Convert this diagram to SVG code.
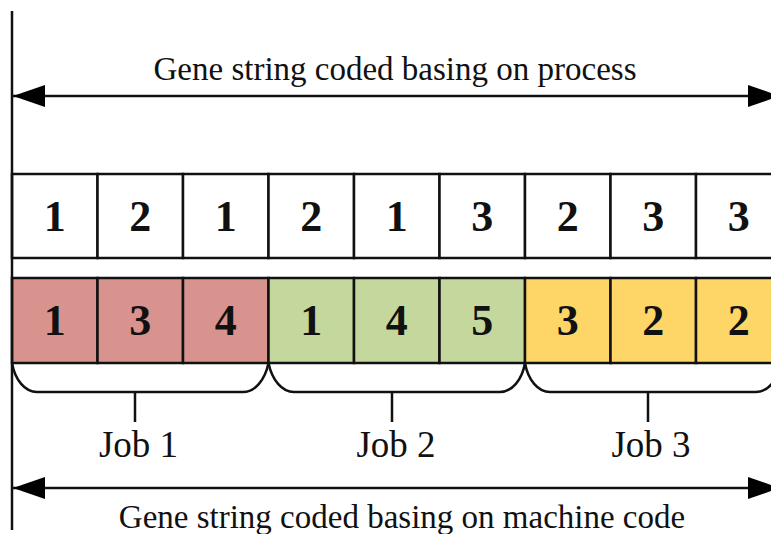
<svg xmlns="http://www.w3.org/2000/svg" width="771" height="534" viewBox="0 0 771 534">
<defs>
<marker id="ah" viewBox="0 0 32 22" refX="32" refY="11" markerWidth="32" markerHeight="22" markerUnits="userSpaceOnUse" orient="auto-start-reverse">
<path d="M0,0 L32,11 L0,22 Z" fill="#000"/>
</marker>
</defs>
<style>
.cell{stroke:#111;stroke-width:2.5}
.w{fill:#fff}
.r{fill:#D9938F}
.g{fill:#C4D79C}
.y{fill:#FED567}
.num{font-family:"Liberation Serif","Times New Roman",serif;font-weight:bold;font-size:44px;text-anchor:middle;fill:#111}
.lbl{font-family:"Liberation Serif","Times New Roman",serif;font-size:33px;text-anchor:middle;fill:#111}
.job{font-family:"Liberation Serif","Times New Roman",serif;font-size:37px;text-anchor:middle;fill:#111}
.ln{stroke:#111;stroke-width:2.5;fill:none}
</style>
<rect width="771" height="534" fill="#fff"/>
<g id="top-row">
<g id="p1"><rect class="cell w" x="12" y="174" width="85.5" height="84"/><text class="num" x="54.75" y="231">1</text></g>
<g id="p2"><rect class="cell w" x="97.5" y="174" width="85.5" height="84"/><text class="num" x="140.25" y="231">2</text></g>
<g id="p3"><rect class="cell w" x="183" y="174" width="85.5" height="84"/><text class="num" x="225.75" y="231">1</text></g>
<g id="p4"><rect class="cell w" x="268.5" y="174" width="85.5" height="84"/><text class="num" x="311.25" y="231">2</text></g>
<g id="p5"><rect class="cell w" x="354" y="174" width="85.5" height="84"/><text class="num" x="396.75" y="231">1</text></g>
<g id="p6"><rect class="cell w" x="439.5" y="174" width="85.5" height="84"/><text class="num" x="482.25" y="231">3</text></g>
<g id="p7"><rect class="cell w" x="525" y="174" width="85.5" height="84"/><text class="num" x="567.75" y="231">2</text></g>
<g id="p8"><rect class="cell w" x="610.5" y="174" width="85.5" height="84"/><text class="num" x="653.25" y="231">3</text></g>
<g id="p9"><rect class="cell w" x="696" y="174" width="85.5" height="84"/><text class="num" x="738.75" y="231">3</text></g>
</g>
<g id="bottom-row">
<g id="m1"><rect class="cell r" x="12" y="278" width="85.5" height="85"/><text class="num" x="54.75" y="335">1</text></g>
<g id="m2"><rect class="cell r" x="97.5" y="278" width="85.5" height="85"/><text class="num" x="140.25" y="335">3</text></g>
<g id="m3"><rect class="cell r" x="183" y="278" width="85.5" height="85"/><text class="num" x="225.75" y="335">4</text></g>
<g id="m4"><rect class="cell g" x="268.5" y="278" width="85.5" height="85"/><text class="num" x="311.25" y="335">1</text></g>
<g id="m5"><rect class="cell g" x="354" y="278" width="85.5" height="85"/><text class="num" x="396.75" y="335">4</text></g>
<g id="m6"><rect class="cell g" x="439.5" y="278" width="85.5" height="85"/><text class="num" x="482.25" y="335">5</text></g>
<g id="m7"><rect class="cell y" x="525" y="278" width="85.5" height="85"/><text class="num" x="567.75" y="335">3</text></g>
<g id="m8"><rect class="cell y" x="610.5" y="278" width="85.5" height="85"/><text class="num" x="653.25" y="335">2</text></g>
<g id="m9"><rect class="cell y" x="696" y="278" width="85.5" height="85"/><text class="num" x="738.75" y="335">2</text></g>
</g>
<g id="connectors">
<line class="ln" x1="12" y1="11" x2="12" y2="530" stroke-width="3"/>
<line class="ln" x1="13" y1="96" x2="780" y2="96" marker-start="url(#ah)" marker-end="url(#ah)"/>
<line class="ln" x1="13" y1="488" x2="780" y2="488" marker-start="url(#ah)" marker-end="url(#ah)"/>
<path class="ln" d="M12,363 C15,380 25,392 37,392 L243,392 C255,392 265,380 268.5,363"/>
<path class="ln" d="M268.5,363 C272,380 282,392 294,392 L500,392 C512,392 522,380 525,363"/>
<path class="ln" d="M525,363 C528,380 538,392 550,392 L756,392 C768,392 778,380 781.5,363"/>
<line class="ln" x1="135" y1="392" x2="135" y2="422"/>
<line class="ln" x1="392" y1="392" x2="392" y2="422"/>
<line class="ln" x1="648" y1="392" x2="648" y2="422"/>
</g>
<g id="labels">
<text class="lbl" x="395" y="80">Gene string coded basing on process</text>
<text class="job" x="138.5" y="457">Job 1</text>
<text class="job" x="396" y="457">Job 2</text>
<text class="job" x="651" y="457">Job 3</text>
<text class="lbl" x="402" y="528">Gene string coded basing on machine code</text>
</g>
</svg>
